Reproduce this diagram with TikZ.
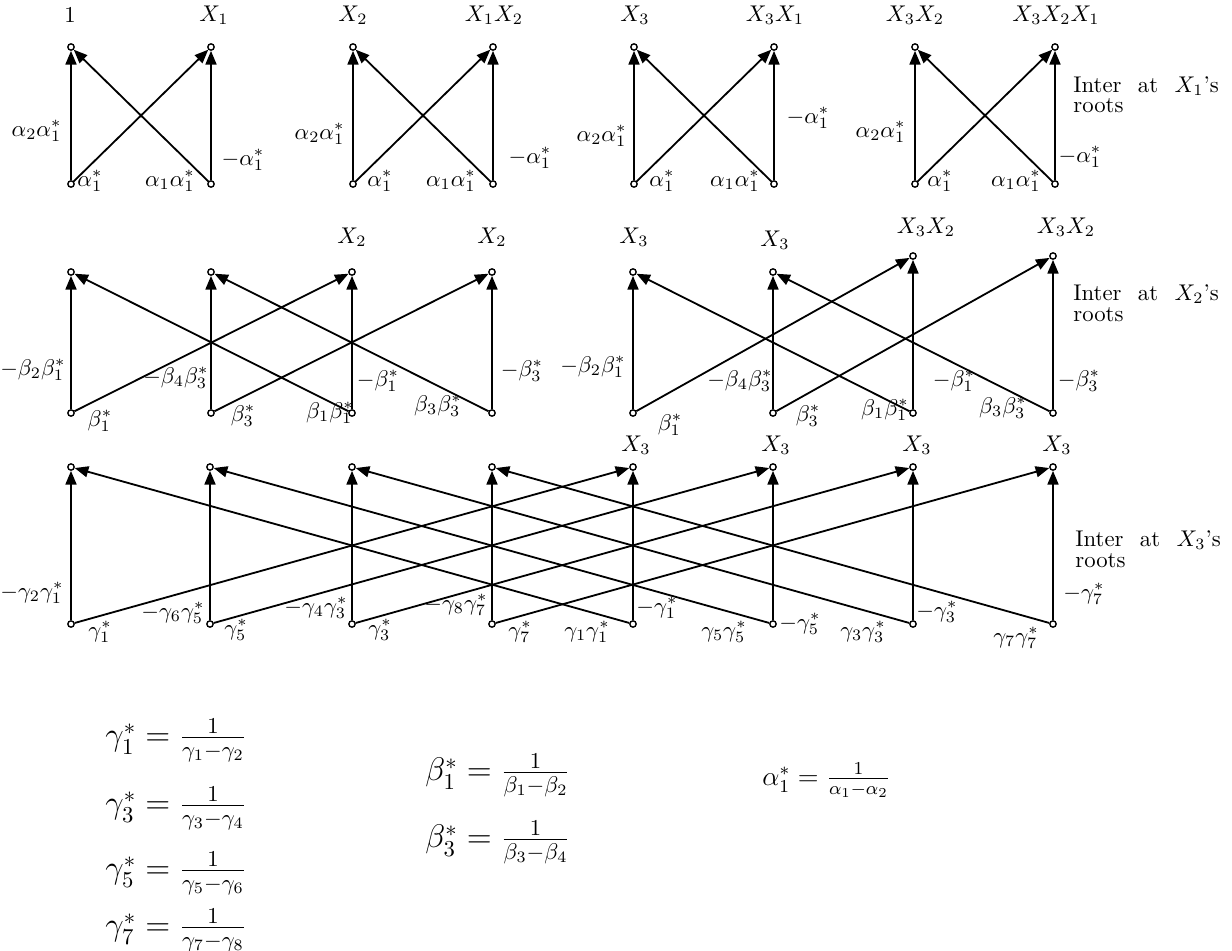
\documentclass[tikz,border=0pt]{standalone}
\usetikzlibrary{arrows.meta}
\begin{document}
\begin{tikzpicture}[x=0.44pt,y=-0.44pt,
  pt/.style={circle,draw,line width=0.6pt,inner sep=0pt,minimum size=2.8pt,fill=white},
  edge/.style={line width=0.8pt,-{Triangle[length=6pt,width=4.8pt]}},
  lab/.style={inner sep=0pt,font=\normalsize},
  lbe/.style={lab,anchor=east},
  formula/.style={inner sep=0pt,anchor=west},
  inter/.style={inner sep=0pt,anchor=west}
]
\useasboundingbox (0,0) rectangle (1232,951);

% ---------- top row ----------
\foreach \i/\x in {1/71,2/211,3/353,4/493,5/634,6/774,7/915,8/1055}{
  \node[pt] (At\i) at (\x,47) {};
  \node[pt] (Ab\i) at (\x,184) {};
}
\foreach \l/\r in {1/2,3/4,5/6,7/8}{
  \draw[edge] (Ab\l) -- (At\l);
  \draw[edge] (Ab\l) -- (At\r);
  \draw[edge] (Ab\r) -- (At\r);
  \draw[edge] (Ab\r) -- (At\l);
}
\node[lab] (tA1) at (70,15) {$1$};
\node[lab] (tA2) at (214,15) {$X_1$};
\node[lab] (tA3) at (353,15) {$X_2$};
\node[lab] (tA4) at (494,15) {$X_1X_2$};
\node[lab] (tA5) at (635,15) {$X_3$};
\node[lab] (tA6) at (775,15) {$X_3X_1$};
\node[lab] (tA7) at (915,15) {$X_3X_2$};
\node[lab] (tA8) at (1056,15) {$X_3X_2X_1$};

\node[lbe] (a11) at (62,131) {$\alpha_2\alpha_1^*$};
\node[lab] (a12) at (90,181) {$\alpha_1^*$};
\node[lab] (a13) at (170,181) {$\alpha_1\alpha_1^*$};
\node[lab] (a14) at (243,160) {$-\alpha_1^*$};
\node[lbe] (a21) at (345,134) {$\alpha_2\alpha_1^*$};
\node[lab] (a22) at (380,181) {$\alpha_1^*$};
\node[lab] (a23) at (451,181) {$\alpha_1\alpha_1^*$};
\node[lab] (a24) at (530,158) {$-\alpha_1^*$};
\node[lbe] (a31) at (627,136) {$\alpha_2\alpha_1^*$};
\node[lab] (a32) at (662,181) {$\alpha_1^*$};
\node[lab] (a33) at (735,181) {$\alpha_1\alpha_1^*$};
\node[lab] (a34) at (808,118) {$-\alpha_1^*$};
\node[lbe] (a41) at (906,132) {$\alpha_2\alpha_1^*$};
\node[lab] (a42) at (940,181) {$\alpha_1^*$};
\node[lab] (a43) at (1016,181) {$\alpha_1\alpha_1^*$};
\node[lab] (a44) at (1080,157) {$-\alpha_1^*$};

\node[inter] (i1) at (1073,86) {\makebox[64pt][s]{Inter at $X_1$'s}};
\node[inter] (r1) at (1073,106) {roots};

% ---------- middle row ----------
\foreach \i/\x/\y in {1/71/272,2/211/272,3/352/272,4/492/272,5/633/272,6/773/272,7/913/256,8/1053/256}{
  \node[pt] (Bt\i) at (\x,\y) {};
  \node[pt] (Bb\i) at (\x,413) {};
}
\foreach \o in {0,4}{
  \foreach \k in {1,2,3,4}{
    \pgfmathtruncatemacro{\c}{\o+\k}
    \draw[edge] (Bb\c) -- (Bt\c);
  }
  \pgfmathtruncatemacro{\ca}{\o+1}
  \pgfmathtruncatemacro{\cb}{\o+2}
  \pgfmathtruncatemacro{\cc}{\o+3}
  \pgfmathtruncatemacro{\cd}{\o+4}
  \draw[edge] (Bb\ca) -- (Bt\cc);
  \draw[edge] (Bb\cb) -- (Bt\cd);
  \draw[edge] (Bb\cc) -- (Bt\ca);
  \draw[edge] (Bb\cd) -- (Bt\cb);
}
\node[lab] (tB3) at (352,237) {$X_2$};
\node[lab] (tB4) at (492,237) {$X_2$};
\node[lab] (tB5) at (634,237) {$X_3$};
\node[lab] (tB6) at (775,240) {$X_3$};
\node[lab] (tB7) at (926,227) {$X_3X_2$};
\node[lab] (tB8) at (1066,227) {$X_3X_2$};

\node[lbe] (b11) at (66,370) {$-\beta_2\beta_1^*$};
\node[lab] (b12) at (100,421) {$\beta_1^*$};
\node[lbe] (b13) at (209,378) {$-\beta_4\beta_3^*$};
\node[lab] (b14) at (243,416) {$\beta_3^*$};
\node[lab] (b15) at (330,413) {$\beta_1\beta_1^*$};
\node[lab] (b16) at (378,381) {$-\beta_1^*$};
\node[lab] (b17) at (438,406) {$\beta_3\beta_3^*$};
\node[lab] (b18) at (522,371) {$-\beta_3^*$};
\node[lbe] (b21) at (626,367) {$-\beta_2\beta_1^*$};
\node[lab] (b22) at (670,425) {$\beta_1^*$};
\node[lbe] (b23) at (773,381) {$-\beta_4\beta_3^*$};
\node[lab] (b24) at (808,416) {$\beta_3^*$};
\node[lab] (b25) at (885,410) {$\beta_1\beta_1^*$};
\node[lab] (b26) at (954,381) {$-\beta_1^*$};
\node[lab] (b27) at (1003,408) {$\beta_3\beta_3^*$};
\node[lab] (b28) at (1079,381) {$-\beta_3^*$};

\node[inter] (i2) at (1073,294) {\makebox[64pt][s]{Inter at $X_2$'s}};
\node[inter] (r2) at (1073,315) {roots};

% ---------- bottom row ----------
\foreach \i/\x in {1/71,2/210,3/352,4/492,5/633,6/773,7/913,8/1053}{
  \node[pt] (Ct\i) at (\x,467) {};
  \node[pt] (Cb\i) at (\x,624) {};
}
\foreach \i/\j in {1/5,2/6,3/7,4/8}{
  \draw[edge] (Cb\i) -- (Ct\i);
  \draw[edge] (Cb\j) -- (Ct\j);
  \draw[edge] (Cb\i) -- (Ct\j);
  \draw[edge] (Cb\j) -- (Ct\i);
}
\node[lab] (tC5) at (636,445) {$X_3$};
\node[lab] (tC6) at (776,445) {$X_3$};
\node[lab] (tC7) at (917,445) {$X_3$};
\node[lab] (tC8) at (1057,445) {$X_3$};

\node[lbe] (c11) at (64,593) {$-\gamma_2\gamma_1^*$};
\node[lab] (c12) at (100,632) {$\gamma_1^*$};
\node[lbe] (c21) at (205,613) {$-\gamma_6\gamma_5^*$};
\node[lab] (c22) at (236,630) {$\gamma_5^*$};
\node[lbe] (c31) at (348,608) {$-\gamma_4\gamma_3^*$};
\node[lab] (c32) at (380,630) {$\gamma_3^*$};
\node[lbe] (c41) at (488,605) {$-\gamma_8\gamma_7^*$};
\node[lab] (c42) at (520,632) {$\gamma_7^*$};
\node[lab] (c51) at (587,632) {$\gamma_1\gamma_1^*$};
\node[lab] (c52) at (657,608) {$-\gamma_1^*$};
\node[lab] (c61) at (724,632) {$\gamma_5\gamma_5^*$};
\node[lab] (c62) at (800,624) {$-\gamma_5^*$};
\node[lab] (c71) at (863,632) {$\gamma_3\gamma_3^*$};
\node[lab] (c72) at (937,612) {$-\gamma_3^*$};
\node[lab] (c81) at (1016,638) {$\gamma_7\gamma_7^*$};
\node[lab] (c82) at (1084,594) {$-\gamma_7^*$};

\node[inter] (i3) at (1075,540) {\makebox[64pt][s]{Inter at $X_3$'s}};
\node[inter] (r3) at (1075,561) {roots};

% ---------- definitions ----------
\node[formula] (f1) at (105,740) {\Large $\gamma_1^* = \frac{1}{\gamma_1-\gamma_2}$};
\node[formula] (f3) at (105,808) {\Large $\gamma_3^* = \frac{1}{\gamma_3-\gamma_4}$};
\node[formula] (f5) at (105,873) {\Large $\gamma_5^* = \frac{1}{\gamma_5-\gamma_6}$};
\node[formula] (f7) at (105,930) {\Large $\gamma_7^* = \frac{1}{\gamma_7-\gamma_8}$};
\node[formula] (g1) at (425,775) {\Large $\beta_1^* = \frac{1}{\beta_1-\beta_2}$};
\node[formula] (g3) at (425,842) {\Large $\beta_3^* = \frac{1}{\beta_3-\beta_4}$};
\node[formula] (h1) at (762,780) {\large $\alpha_1^* = \frac{1}{\alpha_1-\alpha_2}$};
\end{tikzpicture}
\end{document}
